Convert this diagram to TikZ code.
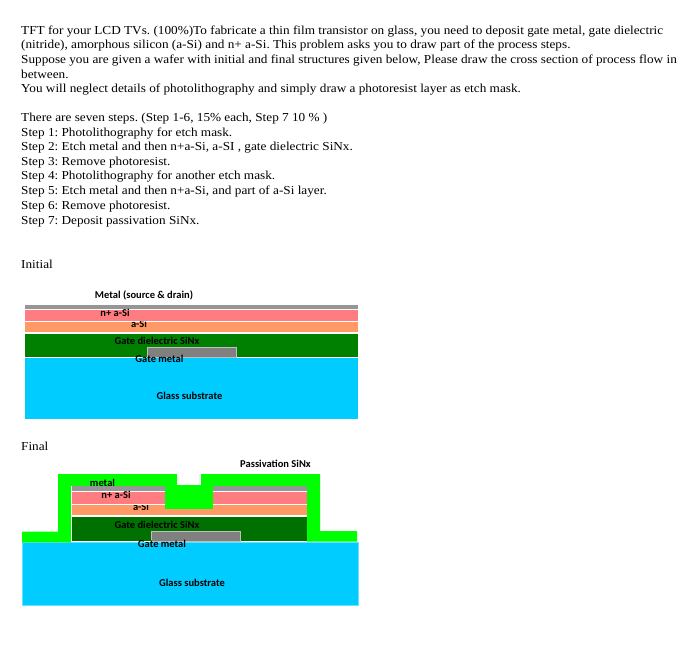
\documentclass[tikz,border=0pt]{standalone}
\usepackage{fontspec}
\setmainfont[FakeStretch=1.085]{Liberation Serif}
\newfontfamily\labelfont{Carlito}
\definecolor{cMetal}{HTML}{969696}
\definecolor{cGate}{HTML}{808080}
\definecolor{cNplus}{HTML}{FF7C80}
\definecolor{cAsi}{HTML}{FF9966}
\definecolor{cDiel}{HTML}{008000}
\definecolor{cDielB}{HTML}{007000}
\definecolor{cPass}{HTML}{00FF00}
\definecolor{cGlass}{HTML}{00CCFF}
\newcommand{\bodysize}{\fontsize{12.2}{14}\selectfont\frenchspacing}

\begin{document}
\begin{tikzpicture}[
    x=1pt, y=-1pt,
    line/.style={anchor=base west, inner sep=0pt, font=\bodysize},
    lab/.style={inner sep=0pt, font=\labelfont\bfseries\fontsize{10.5}{12}\selectfont},
    gatem/.style={fill=cGate, draw=gray!50, line width=0.8pt}
]
\useasboundingbox (0,0) rectangle (697,649);

% problem text
\foreach \yy/\txt [count=\i] in {
    34/{TFT for your LCD TVs. (100\%)To fabricate a thin film transistor on glass, you need to deposit gate metal, gate dielectric},
    48.5/{(nitride), amorphous silicon (a-Si) and n+ a-Si. This problem asks you to draw part of the process steps.},
    63/{Suppose you are given a wafer with initial and final structures given below, Please draw the cross section of process flow in},
    78/{between.},
    92.5/{You will neglect details of photolithography and simply draw a photoresist layer as etch mask.},
    121.5/{There are seven steps. (Step 1-6, 15\% each, Step 7 10 \% )},
    136/{Step 1: Photolithography for etch mask.},
    150.5/{Step 2: Etch metal and then n+a-Si, a-SI , gate dielectric SiNx.},
    165/{Step 3: Remove photoresist.},
    179.5/{Step 4: Photolithography for another etch mask.},
    194.5/{Step 5: Etch metal and then n+a-Si, and part of a-Si layer.},
    209.5/{Step 6: Remove photoresist.},
    224/{Step 7: Deposit passivation SiNx.},
    268/{Initial},
    450/{Final}}
    \node[line] (line\i) at (21,\yy) {\txt};

% initial structure
\fill[cMetal] (25,305) rectangle (358,309);
\fill[cNplus] (25,310) rectangle (358,320.5);
\fill[cAsi] (25,321.7) rectangle (358,332.3);
\fill[cDiel] (25,334) rectangle (358,357);
\fill[cGlass] (25,358) rectangle (358,419);
\filldraw[gatem] (147.5,347.5) rectangle (236.5,357);

\node[lab] (metalA) at (144,295.7) {Metal (source \& drain)};
\node[lab] (nplusA) at (115,312.7) {n+ a-Si};
\begin{scope}
\clip (25,321.7) rectangle (358,332.3);
\node[lab] (asiA) at (139,323.5) {a-Si};
\end{scope}
\node[lab] (dielA) at (157,340.7) {Gate dielectric SiNx};
\node[lab] (gateA) at (159.5,359) {Gate metal};
\node[lab] (glassA) at (189.5,395.7) {Glass substrate};

% final structure
\filldraw[fill=cGlass, draw=cGlass!60] (22,542.3) rectangle (357.7,605);
% passivation
\fill[cPass] (22,531.7) -- (58,531.7) -- (58,474) -- (177,474) -- (177,487) -- (201,487) -- (201,474) -- (320,474)
    -- (320,531) -- (357,531) -- (357,541.7) -- (306.7,541.7) -- (71.7,541.7) -- (71.7,542.3) -- (22,542.3) -- cycle;
\fill[white] (71.2,485.6) rectangle (307.2,541.7);
\fill[cMetal] (71.7,486.4) rectangle (306.7,491);
\fill[cNplus] (71.7,491.7) rectangle (306.7,504);
\fill[cAsi] (71.7,505) rectangle (306.7,515);
\fill[cDielB] (71.7,516.7) rectangle (306.7,541);
\filldraw[gatem] (151,531.7) rectangle (240.3,541);
\fill[cPass] (165.3,485) rectangle (213,508.5);

\node[lab] (passB) at (275.5,463.5) {Passivation SiNx};
\node[lab] (metalB) at (102.5,482.5) {metal};
\node[lab] (nplusB) at (116,495) {n+ a-Si};
\begin{scope}
\clip (71.7,505) rectangle (306.7,515);
\node[lab] (asiB) at (141,506.8) {a-Si};
\end{scope}
\node[lab] (dielB) at (157,524.5) {Gate dielectric SiNx};
\node[lab] (gateB) at (162,543.5) {Gate metal};
\node[lab] (glassB) at (192,582.5) {Glass substrate};
\end{tikzpicture}
\end{document}
